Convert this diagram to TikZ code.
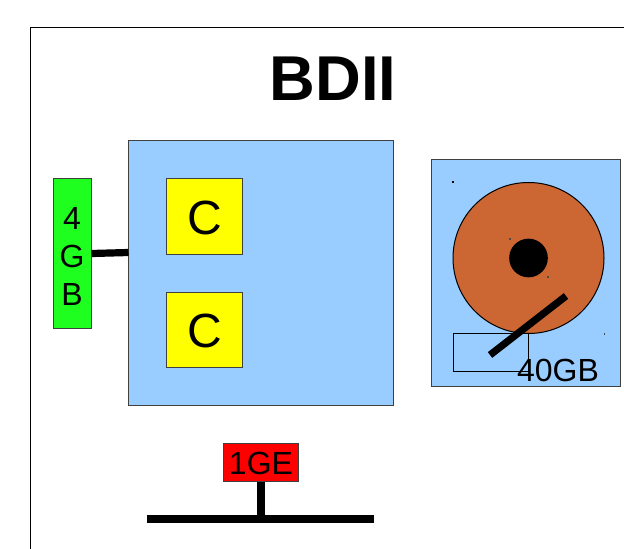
\documentclass[tikz,border=0pt]{standalone}
\usepackage{fontspec}
\setmainfont{Liberation Sans}
\definecolor{paleblue}{HTML}{99CCFF}
\definecolor{memgreen}{HTML}{1FFF1F}
\definecolor{platter}{HTML}{CC6633}
\definecolor{cpuyellow}{HTML}{FFFF00}
\definecolor{nicred}{HTML}{FF0000}
\tikzset{
  x=0.75pt,y=-0.75pt,
  box/.style={draw=black!75,line width=0.75pt,inner sep=0pt,minimum width=0pt},
  thick line/.style={line width=5.4pt,black},
  label/.style={inner sep=0pt,text=black,font=\fontsize{24}{24}\selectfont},
  speck/.style={fill=black!70,inner sep=0pt,minimum size=0.8pt,shape=rectangle}
}
\begin{document}
\begin{tikzpicture}
\useasboundingbox (0,0) rectangle (624,549);
\fill[white] (0,0) rectangle (624,549);
\coordinate (frameTR) at (624,27.5);
\coordinate (frameTL) at (30.5,27.5);
\coordinate (frameBL) at (30.5,549);
\draw[black,line width=0.75pt] (frameTR) -- (frameTL) -- (frameBL);
\node[label,font=\bfseries\fontsize{47.5}{47.5}\selectfont] (title) at (333,78.5) {BDII};

% CPU board
\draw[box,fill=paleblue] (128.5,141) rectangle (393,405.5);
\coordinate (cpuL) at (128.5,252.5);
\draw[box,fill=cpuyellow] (166.5,178.5) rectangle (242,254);
\node[label,font=\fontsize{36}{36}\selectfont] (c1) at (204.5,217.5) {C};
\draw[box,fill=cpuyellow] (166.5,292) rectangle (242,367.5);
\node[label,font=\fontsize{36}{36}\selectfont] (c2) at (204.5,331) {C};

% Memory
\node[box,fill=memgreen,minimum width=28.5pt,minimum height=112.5pt] (mem) at (72,253.5) {};
\node[label] (m4) at (72,218) {4};
\node[label] (mG) at (72,256) {G};
\node[label] (mB) at (72,294.5) {B};
\draw[thick line] (mem.east) -- (cpuL);

% Disk
\draw[box,fill=paleblue] (431,160) rectangle (620,386.5);
\node[draw=black,line width=0.75pt,fill=platter,circle,minimum size=113.25pt,inner sep=0pt] (platter) at (528.5,258) {};
\node[fill=black,circle,minimum size=29pt,inner sep=0pt] (hub) at (528.5,258) {};
\draw[black,line width=0.75pt] (453,333) rectangle (528.5,371);
\coordinate (armA) at (490,355);
\coordinate (armB) at (566,296);
\draw[thick line] (armA) -- (armB);
\node[label] (disklabel) at (558,370) {40GB};
\node[speck,fill=black] (s1) at (453,182) {};
\node[speck] (s2) at (510,239) {};
\node[speck] (s3) at (548,277) {};
\node[speck] (s4) at (604.5,334) {};

% Network
\coordinate (busL) at (147,519);
\coordinate (busR) at (374,519);
\node[box,fill=nicred,minimum width=56.25pt,minimum height=28.5pt] (nic) at (261,462.5) {};
\node[label] (niclabel) at (261,463.5) {1GE};
\draw[thick line] (busL) -- (busR);
\draw[thick line] (nic.south) -- (nic.south |- busL);
\end{tikzpicture}
\end{document}
